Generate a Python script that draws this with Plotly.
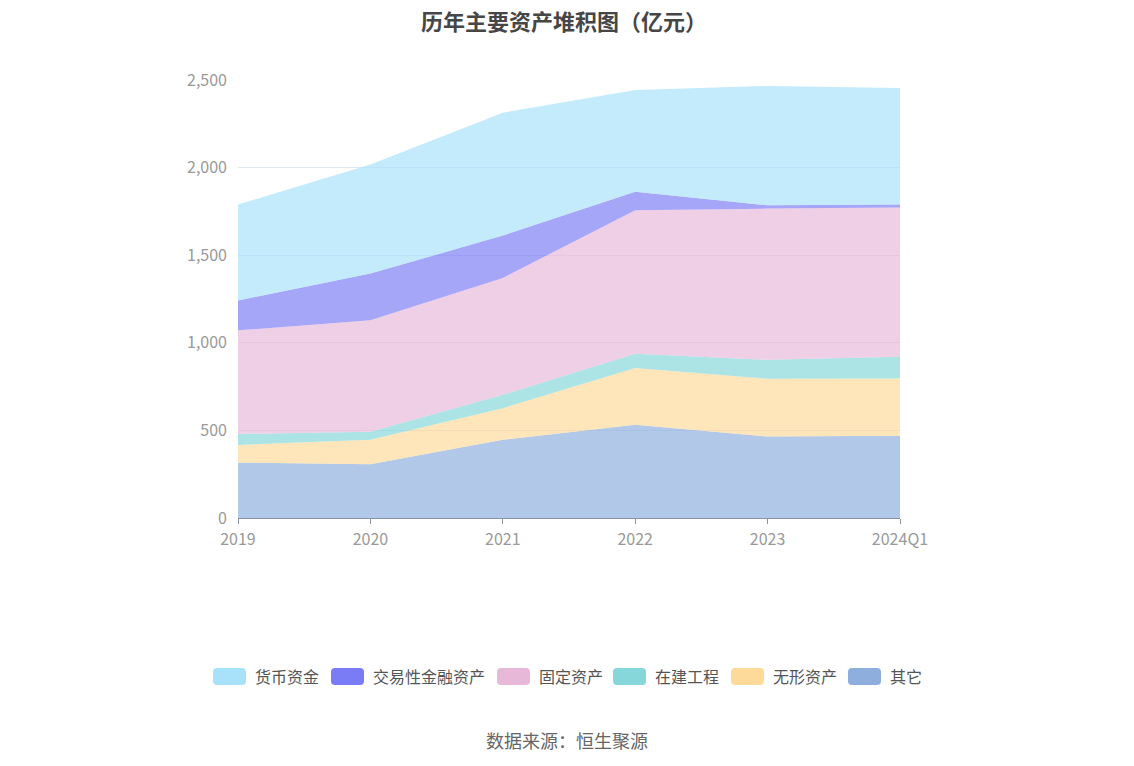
import plotly.graph_objects as go

# 历年主要资产（亿元）
years = ['2019', '2020', '2021', '2022', '2023', '2024Q1']
cash = [547, 623, 701, 581, 681, 665]          # 货币资金
trading = [171, 267, 242, 105, 19, 17]         # 交易性金融资产
fixed = [591, 635, 667, 820, 863, 852]         # 固定资产
construction = [63, 47, 76, 81, 108, 124]      # 在建工程
intangible = [101, 139, 181, 324, 330, 326]    # 无形资产
others = [316, 307, 446, 532, 465, 470]        # 其它

y_ticks = [0, 500, 1000, 1500, 2000, 2500]

# 从下往上堆叠
series = [
    ('其它', others, '142,174,221'),
    ('无形资产', intangible, '253,217,154'),
    ('在建工程', construction, '133,215,218'),
    ('固定资产', fixed, '232,184,217'),
    ('交易性金融资产', trading, '122,124,245'),
    ('货币资金', cash, '167,225,250'),
]

font_cn = 'Noto Sans CJK SC'

# 绘图区(像素): 左230 右892 上72 下510
L, R, T, B = 230, 892, 72, 510
W, H = 1134, 766


def px_x(x):
    return (x - L) / (R - L)


def px_y(y):
    return (B - y) / (B - T)


def round_box(x0, y0, x1, y1, r=4):
    # 圆角矩形 path（paper 坐标）
    pts = [
        f'M{px_x(x0 + r)},{px_y(y0)}',
        f'L{px_x(x1 - r)},{px_y(y0)}',
        f'Q{px_x(x1)},{px_y(y0)} {px_x(x1)},{px_y(y0 + r)}',
        f'L{px_x(x1)},{px_y(y1 - r)}',
        f'Q{px_x(x1)},{px_y(y1)} {px_x(x1 - r)},{px_y(y1)}',
        f'L{px_x(x0 + r)},{px_y(y1)}',
        f'Q{px_x(x0)},{px_y(y1)} {px_x(x0)},{px_y(y1 - r)}',
        f'L{px_x(x0)},{px_y(y0 + r)}',
        f'Q{px_x(x0)},{px_y(y0)} {px_x(x0 + r)},{px_y(y0)}',
        'Z',
    ]
    return ' '.join(pts)


fig = go.Figure()
for name, vals, rgb in series:
    fig.add_trace(go.Scatter(
        x=years, y=vals, name=name,
        mode='lines', stackgroup='one',
        line=dict(width=0, color=f'rgb({rgb})'),
        fillcolor=f'rgba({rgb},0.68)',
        showlegend=False,
    ))

# 图例（手工绘制，圆角色块）
legend_x = [205, 323, 489, 605, 723, 840]
shapes = []
annotations = []
for (name, vals, rgb), lx in zip(reversed(series), legend_x):
    shapes.append(dict(type='path', xref='paper', yref='paper',
                       path=round_box(lx, 660, lx + 33, 677),
                       fillcolor=f'rgb({rgb})', line=dict(width=0)))
    annotations.append(dict(text=name, xref='paper', yref='paper',
                            x=px_x(lx + 40), y=px_y(667.5),
                            xanchor='left', yanchor='middle', showarrow=False,
                            font=dict(size=16, color='#555555', family=font_cn)))

# 标题
annotations.append(dict(text='<b>历年主要资产堆积图（亿元）</b>', xref='paper', yref='paper',
                        x=px_x(556), y=px_y(12), xanchor='center', yanchor='middle',
                        showarrow=False,
                        font=dict(size=22, color='#464646', family=font_cn)))

annotations.append(dict(text='数据来源：恒生聚源', xref='paper', yref='paper',
                        x=px_x(559), y=px_y(732), xanchor='center', yanchor='middle',
                        showarrow=False,
                        font=dict(size=18, color='#666666', family=font_cn)))

fig.update_layout(
    width=W, height=H,
    margin=dict(l=L, r=W - R, t=T, b=H - B),
    paper_bgcolor='white', plot_bgcolor='white',
    font=dict(family=font_cn, color='#999999', size=15),
    showlegend=False,
    xaxis=dict(type='category', range=[0, 5], showgrid=False,
               showline=True, linecolor='#8a94a6', linewidth=1,
               ticks='outside', ticklen=5, tickcolor='#8a94a6',
               ticklabelstandoff=2,
               tickfont=dict(size=16, color='#999999')),
    yaxis=dict(range=[0, 2500], tickvals=y_ticks, tickformat=',',
               showgrid=True, gridcolor='#E0E6F1', zeroline=False,
               showline=False, ticks='', ticklabelstandoff=10,
               tickfont=dict(size=16, color='#999999')),
    shapes=shapes,
    annotations=annotations,
)

fig.write_html('out.html')
